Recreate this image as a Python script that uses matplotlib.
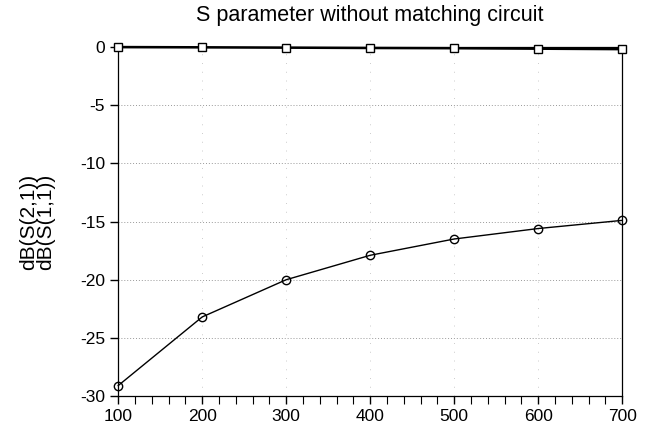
import numpy as np
import matplotlib.pyplot as plt
from matplotlib.ticker import MultipleLocator

plt.rcParams['font.family'] = ['Liberation Sans', 'DejaVu Sans']
plt.rcParams['axes.unicode_minus'] = False

# frequency points and S parameters (dB)
freq = [100, 200, 300, 400, 500, 600, 700]
s21_db = [0.0, -0.02, -0.05, -0.08, -0.10, -0.14, -0.18]
s11_db = [-29.1, -23.2, -20.0, -17.9, -16.5, -15.6, -14.9]

x_ticks = [100, 200, 300, 400, 500, 600, 700]
y_ticks = [0, -5, -10, -15, -20, -25, -30]

fig = plt.figure(figsize=(6.46, 4.44), dpi=100)
ax = fig.add_axes([0.183, 0.108, 0.78, 0.786])

ax.plot(freq, s21_db, color='black', lw=1.8, marker='s', ms=6,
        mfc='white', mec='black', mew=1.0, clip_on=False, zorder=3)
ax.plot(freq, s11_db, color='black', lw=1.0, marker='o', ms=6,
        mfc='none', mec='black', mew=1.0, clip_on=False, zorder=3)

ax.set_xlim(100, 700)
ax.set_ylim(-30, 0)
ax.set_xticks(x_ticks)
ax.set_yticks(y_ticks)
ax.xaxis.set_minor_locator(MultipleLocator(20))
ax.tick_params(axis='both', which='major', direction='out', length=6,
               width=1, labelsize=12.5, colors='black')
ax.tick_params(axis='x', which='minor', direction='out', length=6, width=0.8)

ax.grid(axis='y', which='major', color='#999999', ls=(0, (1, 2)), lw=0.7)
ax.grid(axis='x', which='major', color='#cccccc', ls=(0, (1, 8)), lw=0.7)

for sp in ax.spines.values():
    sp.set_linewidth(0.9)

ax.set_title('S parameter without matching circuit', fontsize=15.5, pad=19)
ax.set_ylabel('dB(S(2,1))\ndB(S(1,1))', fontsize=15, labelpad=18,
              linespacing=0.85)

fig.savefig('out.png', dpi=100)
